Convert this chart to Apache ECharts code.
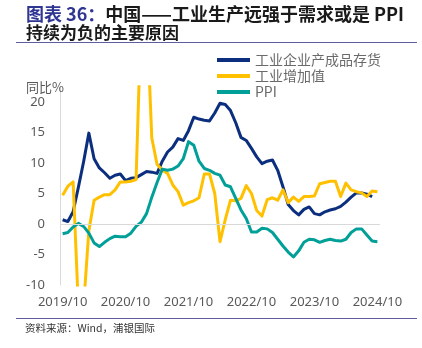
<!DOCTYPE html>
<html><head><meta charset="utf-8">
<script src="https://cdn.jsdelivr.net/npm/echarts@6/dist/echarts.min.js"></script>
<style>html,body{margin:0;padding:0;background:#fff}#c{width:422px;height:348px}</style>
</head><body><div id="c"></div>
<script>
const categories = [
 '2019/10','2019/11','2019/12',
 '2020/01','2020/02','2020/03','2020/04','2020/05','2020/06','2020/07','2020/08','2020/09','2020/10','2020/11','2020/12',
 '2021/01','2021/02','2021/03','2021/04','2021/05','2021/06','2021/07','2021/08','2021/09','2021/10','2021/11','2021/12',
 '2022/01','2022/02','2022/03','2022/04','2022/05','2022/06','2022/07','2022/08','2022/09','2022/10','2022/11','2022/12',
 '2023/01','2023/02','2023/03','2023/04','2023/05','2023/06','2023/07','2023/08','2023/09','2023/10','2023/11','2023/12',
 '2024/01','2024/02','2024/03','2024/04','2024/05','2024/06','2024/07','2024/08','2024/09','2024/10'
];
// 工业企业产成品存货 (同比%)
const inventory = [
 0.7,0.4,2.0,
 6.0,10.2,14.9,10.7,9.2,8.4,7.5,8.0,8.2,7.1,7.5,7.6,
 8.1,8.6,8.5,8.3,10.3,11.8,12.6,14.0,13.7,15.3,17.5,17.2,
 17.0,16.9,18.2,19.8,19.6,18.6,16.6,14.2,13.7,12.4,11.0,9.9,
 10.3,10.5,8.8,6.1,3.2,2.2,1.5,2.4,2.8,1.7,1.5,2.0,
 2.3,2.5,2.9,3.6,4.4,5.1,5.1,4.9,4.5,null
];
// 工业增加值 (同比%)
const industry = [
 4.7,6.2,6.9,
 -13.5,-13.5,-1.1,3.9,4.4,4.8,4.8,5.6,6.9,6.9,7.0,7.3,
 35.1,35.1,14.1,9.8,8.8,8.3,6.4,5.3,3.1,3.5,3.8,4.3,
 8.2,8.2,5.0,-2.9,0.7,3.9,3.8,4.2,6.3,5.0,2.2,1.3,
 4.0,4.3,3.9,5.6,3.5,4.4,3.7,4.5,4.5,4.6,6.6,6.8,
 7.0,7.0,4.5,6.7,5.6,5.3,5.1,4.5,5.4,5.3
];
// PPI (同比%)
const ppi = [
 -1.6,-1.4,-0.5,
 0.1,-0.4,-1.5,-3.1,-3.7,-3.0,-2.4,-2.0,-2.1,-2.1,-1.5,-0.4,
 0.3,1.7,4.4,6.8,9.0,8.8,9.0,9.5,10.7,13.5,12.9,10.3,
 9.1,8.8,8.3,8.0,6.4,6.1,4.2,2.3,0.9,-1.3,-1.3,-0.7,
 -0.8,-1.4,-2.5,-3.6,-4.6,-5.4,-4.4,-3.0,-2.5,-2.6,-3.0,-2.7,
 -2.5,-2.7,-2.8,-2.5,-1.4,-0.8,-0.8,-1.8,-2.8,-2.9
];
const xTickLabels = ['2019/10','2020/10','2021/10','2022/10','2023/10','2024/10'];
const yTickLabels = [-10,-5,0,5,10,15,20];
const seriesNames = ['工业企业产成品存货','工业增加值','PPI'];

const chart = echarts.init(document.getElementById('c'), null, {renderer:'canvas'});
const cjk = "'Noto Sans CJK SC','Noto Sans',sans-serif";
const num = "'Noto Sans','Liberation Sans',sans-serif";
chart.setOption({
  animation:false,
  backgroundColor:'#fff',
  title:[
    {text:'{a|图表 36：}{b|中国——工业生产远强于需求或是 PPI}', left:26, top:5, padding:0,
     textStyle:{rich:{
       a:{fontFamily:cjk,fontSize:18,fontWeight:'bold',color:'#2E3592'},
       b:{fontFamily:cjk,fontSize:18,fontWeight:'bold',color:'#1a1a1a'}}}},
    {text:'持续为负的主要原因', left:26, top:24, padding:0,
     textStyle:{fontFamily:cjk,fontSize:17,fontWeight:'bold',color:'#1a1a1a'}},
    {text:'同比%', left:26, top:81, padding:0,
     textStyle:{fontFamily:cjk,fontSize:13,fontWeight:'normal',color:'#595959'}},
    {text:'资料来源：Wind，浦银国际', left:25, top:323, padding:0,
     textStyle:{fontFamily:cjk,fontSize:10.5,fontWeight:'normal',color:'#333'}}
  ],
  graphic:[
    {type:'line', shape:{x1:16,y1:42.5,x2:417,y2:42.5}, style:{stroke:'#5E5E9A',lineWidth:1.2}},
    {type:'line', shape:{x1:16,y1:318.5,x2:417,y2:318.5}, style:{stroke:'#5E5E9A',lineWidth:1.2}}
  ],
  legend:{
    data:seriesNames, orient:'vertical', left:217, top:52, padding:0,
    itemWidth:33, itemHeight:4, itemGap:0, icon:'rect',
    textStyle:{fontFamily:cjk,fontSize:14,color:'#6a6a6a',lineHeight:16}
  },
  grid:{left:60, top:86.75, width:320, height:198.25, containLabel:false},
  xAxis:{
    type:'category', data:categories, boundaryGap:true,
    axisLine:{show:false}, axisTick:{show:false}, splitLine:{show:false},
    axisLabel:{interval:(i,v)=>xTickLabels.includes(v), margin:11,
      fontFamily:num, fontSize:13, color:'#595959'}
  },
  yAxis:{
    type:'value', min:-10, max:22.5, interval:2.5,
    axisLine:{show:true, lineStyle:{color:'#d9d9d9',width:1}},
    axisTick:{show:false}, splitLine:{show:false},
    axisLabel:{formatter:v=>yTickLabels.includes(v)?String(v):'', margin:15,
      fontFamily:num, fontSize:13, color:'#595959'}
  },
  series:[
    {name:'zero', type:'line', data:[], z:1, silent:true,
     markLine:{silent:true, symbol:'none', label:{show:false},
       lineStyle:{color:'#d9d9d9',type:'solid',width:1}, data:[{yAxis:0}]}},
    {name:seriesNames[0], type:'line', data:inventory, symbol:'none', z:3,
     lineStyle:{width:3,color:'#0B2F7E',join:'round'}, itemStyle:{color:'#0B2F7E'}},
    {name:seriesNames[1], type:'line', data:industry, symbol:'none', z:3,
     lineStyle:{width:3,color:'#FFC000',join:'round'}, itemStyle:{color:'#FFC000'}},
    {name:seriesNames[2], type:'line', data:ppi, symbol:'none', z:3,
     lineStyle:{width:3,color:'#00A099',join:'round'}, itemStyle:{color:'#00A099'}}
  ]
});
</script></body></html>
